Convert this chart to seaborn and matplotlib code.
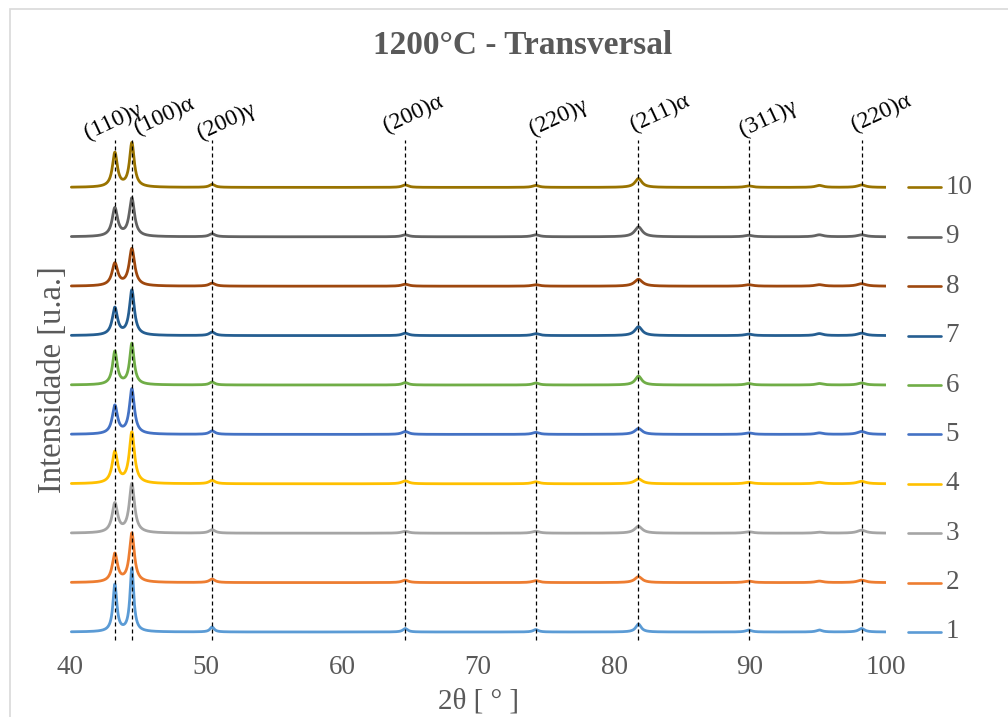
import numpy as np
import pandas as pd
import matplotlib
matplotlib.use("Agg")
import matplotlib.pyplot as plt
import matplotlib.transforms as mtransforms
from matplotlib.patches import Rectangle
import seaborn as sns

# ---------------- data ----------------
samples = ["1", "2", "3", "4", "5", "6", "7", "8", "9", "10"]
peak_pos = [43.3, 44.55, 50.45, 64.65, 74.25, 81.8, 89.9, 95.1, 98.2]
peak_hw = [0.23, 0.22, 0.25, 0.28, 0.30, 0.32, 0.34, 0.34, 0.36]
sample_width_scale = [0.75, 1.0, 1.05, 1.05, 1.0, 0.9, 1.0, 1.1, 1.05, 0.95]
# heights (in units of the vertical offset between traces), per sample
h1 = [0.95, 1.28, 0.10, 0.07, 0.05, 0.16, 0.04, 0.04, 0.07]
h2 = [0.57, 0.99, 0.07, 0.05, 0.04, 0.12, 0.03, 0.03, 0.05]
h3 = [0.59, 0.99, 0.07, 0.04, 0.04, 0.14, 0.03, 0.02, 0.06]
h4 = [0.63, 1.03, 0.07, 0.06, 0.04, 0.10, 0.03, 0.03, 0.05]
h5 = [0.57, 0.91, 0.07, 0.06, 0.04, 0.12, 0.03, 0.03, 0.06]
h6 = [0.67, 0.83, 0.06, 0.05, 0.04, 0.18, 0.03, 0.03, 0.04]
h7 = [0.55, 0.91, 0.07, 0.05, 0.04, 0.18, 0.03, 0.04, 0.05]
h8 = [0.45, 0.75, 0.06, 0.04, 0.03, 0.14, 0.03, 0.03, 0.05]
h9 = [0.57, 0.77, 0.06, 0.04, 0.04, 0.20, 0.03, 0.04, 0.04]
h10 = [0.69, 0.89, 0.06, 0.05, 0.04, 0.18, 0.03, 0.04, 0.05]
heights = [h1, h2, h3, h4, h5, h6, h7, h8, h9, h10]
offsets = [0, 1, 2, 3, 4, 5, 6, 7, 8, 9]

ref_lines = [43.3, 44.55, 50.45, 64.65, 74.25, 81.8, 89.9, 98.2]
ref_labels = ["(110)γ", "(100)α", "(200)γ", "(200)α", "(220)γ", "(211)α", "(311)γ", "(220)α"]
xticks = [40, 50, 60, 70, 80, 90, 100]

colors = ["#5B9BD5", "#ED7D31", "#A5A5A5", "#FFC000", "#4472C4",
          "#70AD47", "#255E91", "#9E480E", "#636363", "#997300"]

# ---------------- build profiles ----------------
x = np.linspace(40.1, 100.2, 4000)
rows = []
for s, hs, off, ws in zip(samples, heights, offsets, sample_width_scale):
    y = np.zeros_like(x)
    for p, h, w in zip(peak_pos, hs, peak_hw):
        hw = w * ws
        y += h / (1 + ((x - p) / hw) ** 2)
    rows.append(pd.DataFrame({"two_theta": x, "intensity": y + off, "sample": s}))
df = pd.concat(rows, ignore_index=True)

# ---------------- figure ----------------
sns.set_style("white")
plt.rcParams["font.family"] = ["Liberation Serif", "DejaVu Serif"]
text_color = "#595959"

fig = plt.figure(figsize=(10.08, 7.17), dpi=100)
ylo, yhi = -0.3, 10.5
px_per = 49.4
bottom_px = 632 + (0 - ylo) * px_per
top_px = 632 - yhi * px_per
ax = fig.add_axes([70 / 1008, 1 - bottom_px / 717, (886 - 70) / 1008, (bottom_px - top_px) / 717])

sns.lineplot(data=df, x="two_theta", y="intensity", hue="sample", hue_order=samples,
             palette=colors, sort=False, estimator=None, legend=False, linewidth=2.0, ax=ax)

ax.set_xlim(40, 100)
ax.set_ylim(ylo, yhi)

# reference dashed lines
ax.vlines(ref_lines, -0.16, 9.95, colors="black", linestyles=(0, (3.2, 2.4)), linewidth=0.9, zorder=5)

# peak labels
label_x = [41.3, 45.0, 49.6, 63.3, 74.05, 81.45, 89.45, 97.75]
label_y = [9.98, 10.08, 9.98, 10.12, 10.06, 10.14, 10.03, 10.14]
for lx, ly, lab in zip(label_x, label_y, ref_labels):
    ax.text(lx, ly, lab, rotation=25, rotation_mode="anchor", ha="left", va="baseline",
            fontsize=17, color="black", clip_on=False)

# legend entries aligned with baselines
trans = mtransforms.blended_transform_factory(ax.transAxes, ax.transData)
for s, off, c in zip(samples, offsets, colors):
    ax.plot([1.027, 1.068], [off, off], color=c, lw=1.9, transform=trans, clip_on=False)
    ax.text(1.073, off, s, transform=trans, ha="left", va="center", fontsize=19.5,
            color=text_color, clip_on=False)

for sp in ax.spines.values():
    sp.set_visible(False)
ax.set_yticks([])
ax.set_xticks(xticks)
ax.set_xticklabels([str(t) for t in xticks])
ax.tick_params(axis="x", length=0, pad=6, labelsize=19.5, labelcolor=text_color)
ax.set_xlabel("2θ [ ° ]", fontsize=21, color=text_color, labelpad=6)
ax.set_ylabel("Intensidade [u.a.]", fontsize=23.5, color=text_color)
ax.yaxis.set_label_coords(-0.003, 0.5)

fig.text(523 / 1008, 1 - 45 / 717, "1200°C - Transversal", ha="center", va="center",
         fontsize=24, fontweight="bold", color=text_color)

fig.patches.append(Rectangle((10 / 1008, -0.05), 1.2, 1 - 9 / 717 + 0.05, transform=fig.transFigure,
                             fill=False, edgecolor="#d9d9d9", linewidth=1.2))

fig.savefig("out.png", dpi=100)
